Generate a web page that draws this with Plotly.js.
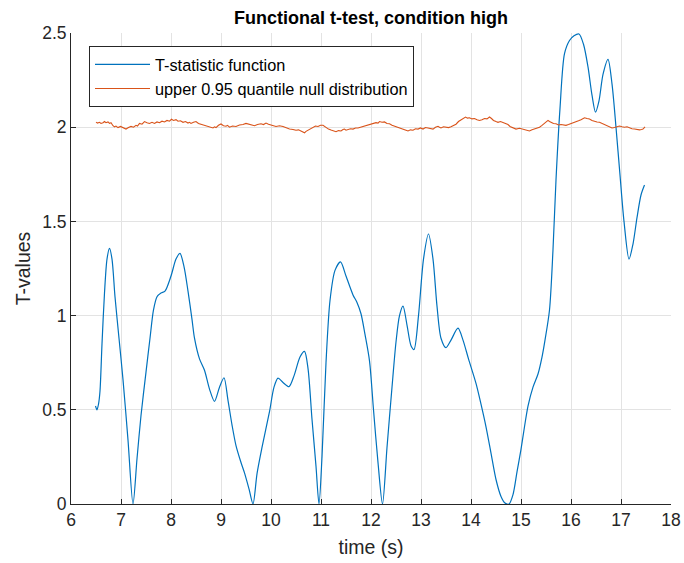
<!DOCTYPE html>
<html>
<head>
<meta charset="utf-8">
<script src="https://cdn.plot.ly/plotly-3.0.1.min.js"></script>
<style>html,body{margin:0;padding:0;background:#fff;}#chart{width:684px;height:563px;}</style>
</head>
<body>
<div id="chart"></div>
<script>
// T-statistic function (blue)
const tTime = [6.49,6.52,6.55,6.58,6.62,6.67,6.72,6.77,6.82,6.88,6.96,7.04,7.14,7.24,7.32,7.40,7.50,7.58,7.65,7.72,7.80,7.88,8.00,8.10,8.18,8.26,8.34,8.42,8.47,8.57,8.67,8.77,8.87,8.97,9.06,9.14,9.22,9.30,9.40,9.47,9.56,9.64,9.72,9.82,9.97,10.06,10.14,10.24,10.36,10.46,10.58,10.67,10.74,10.82,10.90,10.96,11.02,11.10,11.18,11.28,11.39,11.50,11.64,11.72,11.80,11.88,11.97,12.05,12.14,12.23,12.32,12.42,12.50,12.57,12.64,12.72,12.80,12.86,12.95,13.05,13.15,13.24,13.32,13.40,13.50,13.60,13.74,13.84,13.95,14.10,14.20,14.30,14.40,14.50,14.60,14.68,14.76,14.84,14.92,15.00,15.07,15.14,15.24,15.34,15.42,15.48,15.57,15.64,15.70,15.78,15.87,15.97,16.06,16.16,16.25,16.34,16.42,16.49,16.56,16.64,16.74,16.82,16.90,16.98,17.06,17.16,17.24,17.32,17.40,17.47];
const tValues = [0.52,0.50,0.53,0.60,0.85,1.12,1.30,1.357,1.30,1.10,0.88,0.66,0.34,0.0,0.24,0.47,0.70,0.88,1.03,1.10,1.12,1.13,1.21,1.30,1.33,1.26,1.13,0.98,0.88,0.77,0.71,0.61,0.545,0.62,0.67,0.55,0.42,0.31,0.22,0.165,0.08,0.0,0.16,0.30,0.49,0.62,0.668,0.645,0.623,0.68,0.78,0.81,0.72,0.45,0.20,0.0,0.25,0.75,1.08,1.24,1.285,1.21,1.11,1.07,1.01,0.90,0.76,0.50,0.22,0.0,0.30,0.62,0.86,1.00,1.05,0.95,0.84,0.82,1.00,1.30,1.433,1.30,1.05,0.88,0.83,0.87,0.933,0.87,0.77,0.64,0.53,0.41,0.27,0.13,0.04,0.005,0.0,0.05,0.17,0.29,0.41,0.52,0.62,0.69,0.78,0.87,1.03,1.35,1.72,2.10,2.39,2.46,2.485,2.495,2.44,2.32,2.17,2.08,2.14,2.28,2.36,2.23,2.00,1.746,1.50,1.30,1.38,1.52,1.64,1.693];

// upper 0.95 quantile of the null distribution (orange)
const qTime = [6.50,6.53,6.57,6.60,6.64,6.67,6.70,6.74,6.77,6.80,6.84,6.87,6.90,6.94,6.99,7.04,7.07,7.10,7.15,7.20,7.25,7.30,7.33,7.37,7.42,7.47,7.52,7.57,7.62,7.67,7.72,7.77,7.82,7.87,7.92,7.97,8.01,8.05,8.10,8.14,8.19,8.24,8.29,8.34,8.37,8.40,8.45,8.50,8.55,8.60,8.65,8.70,8.77,8.84,8.87,8.90,8.95,9.00,9.05,9.10,9.13,9.17,9.23,9.30,9.37,9.44,9.50,9.57,9.62,9.67,9.73,9.80,9.85,9.90,9.95,10.00,10.05,10.10,10.17,10.24,10.30,10.37,10.44,10.50,10.55,10.60,10.64,10.67,10.70,10.74,10.79,10.84,10.89,10.94,10.99,11.04,11.07,11.10,11.15,11.20,11.25,11.30,11.35,11.40,11.44,11.47,11.50,11.54,11.59,11.64,11.69,11.74,11.79,11.84,11.89,11.94,11.99,12.04,12.10,12.14,12.17,12.22,12.27,12.32,12.37,12.42,12.47,12.52,12.57,12.62,12.67,12.70,12.74,12.79,12.84,12.89,12.94,12.99,13.04,13.09,13.14,13.19,13.24,13.29,13.34,13.37,13.40,13.45,13.50,13.55,13.60,13.65,13.70,13.75,13.80,13.85,13.89,13.93,13.97,14.02,14.07,14.12,14.17,14.22,14.27,14.32,14.37,14.41,14.45,14.50,14.54,14.59,14.64,14.69,14.74,14.78,14.82,14.86,14.90,14.97,15.04,15.10,15.17,15.22,15.27,15.32,15.37,15.42,15.47,15.51,15.54,15.57,15.60,15.65,15.70,15.75,15.80,15.85,15.90,15.95,16.00,16.05,16.10,16.15,16.20,16.24,16.27,16.32,16.37,16.42,16.47,16.52,16.57,16.62,16.67,16.72,16.77,16.82,16.87,16.92,16.97,17.02,17.07,17.12,17.17,17.22,17.27,17.32,17.37,17.41,17.44,17.48];
const qValues = [2.027,2.022,2.026,2.020,2.024,2.030,2.024,2.028,2.020,2.024,2.008,2.002,2.006,1.998,2.004,1.998,1.994,1.990,1.998,2.004,2.000,2.010,2.006,2.020,2.016,2.030,2.024,2.020,2.026,2.020,2.028,2.024,2.032,2.028,2.036,2.032,2.042,2.036,2.040,2.032,2.034,2.026,2.030,2.022,2.026,2.020,2.026,2.030,2.020,2.016,2.012,2.008,2.000,1.996,2.002,1.998,2.010,2.017,2.008,2.005,2.010,2.000,2.006,2.004,2.012,2.014,2.020,2.016,2.012,2.008,2.014,2.018,2.014,2.022,2.016,2.010,2.008,2.004,2.008,2.004,1.996,1.990,1.988,1.984,1.986,1.980,1.976,1.970,1.978,1.984,1.994,2.000,2.006,2.004,2.010,2.010,2.004,1.997,1.990,1.985,1.980,1.976,1.982,1.980,1.988,1.990,1.984,1.986,1.992,1.990,1.996,1.996,2.000,2.000,2.006,2.008,2.014,2.016,2.024,2.022,2.030,2.026,2.028,2.020,2.018,2.010,2.006,2.000,1.998,1.994,1.990,1.984,1.980,1.986,1.984,1.992,1.990,1.996,1.990,1.998,1.996,1.992,1.990,2.000,2.005,2.000,1.996,2.002,2.000,1.998,2.002,2.008,2.016,2.030,2.040,2.048,2.054,2.048,2.050,2.044,2.046,2.040,2.036,2.040,2.046,2.044,2.054,2.046,2.036,2.030,2.026,2.030,2.026,2.020,2.014,2.004,1.998,1.994,1.990,1.994,1.990,1.986,1.980,1.986,1.990,1.996,2.000,2.010,2.022,2.030,2.036,2.030,2.026,2.020,2.018,2.012,2.014,2.010,2.010,2.014,2.018,2.022,2.026,2.034,2.040,2.046,2.050,2.046,2.044,2.036,2.030,2.028,2.026,2.020,2.014,2.006,2.000,1.996,1.998,2.004,2.006,2.002,2.000,2.002,1.996,1.992,1.990,1.986,1.986,1.988,1.990,2.002];

const seriesNames = ['T-statistic function', 'upper 0.95 quantile null distribution'];
const xTicks = [6,7,8,9,10,11,12,13,14,15,16,17,18];
const yTicks = [0,0.5,1,1.5,2,2.5];
const yTickText = ['0','0.5','1','1.5','2','2.5'];

const FONT = 'Liberation Sans, Arial, Helvetica, sans-serif';
const TXT = '#262626';

const traces = [
  {x: tTime, y: tValues, type: 'scatter', mode: 'lines', name: seriesNames[0],
   line: {color: '#0072BD', width: 1.2, shape: 'spline', smoothing: 0.8}},
  {x: qTime, y: qValues, type: 'scatter', mode: 'lines', name: seriesNames[1],
   line: {color: '#D95319', width: 1.1}}
];

const layout = {
  width: 684, height: 563,
  margin: {l: 71, r: 13, t: 33, b: 59},
  paper_bgcolor: '#fff', plot_bgcolor: '#fff',
  font: {family: FONT, color: TXT, size: 17},
  title: {text: '<b>Functional t-test, condition high</b>', font: {family: FONT, size: 18, color: '#000'},
          x: 0.5, xanchor: 'center', y: 0.968, yanchor: 'middle', xref: 'paper'},
  xaxis: {range: [6, 18], tickvals: xTicks, showgrid: true, gridcolor: '#e3e3e3', gridwidth: 1,
          showline: true, linecolor: '#262626', linewidth: 1, ticks: 'inside', ticklen: 5, tickcolor: '#262626',
          zeroline: false, mirror: false, tickfont: {size: 17.5, color: TXT},
          title: {text: 'time (s)', font: {size: 19.5, color: TXT}, standoff: 11}},
  yaxis: {range: [0, 2.5], tickvals: yTicks, ticktext: yTickText, showgrid: true, gridcolor: '#e3e3e3', gridwidth: 1,
          showline: true, linecolor: '#262626', linewidth: 1, ticks: 'inside', ticklen: 5, tickcolor: '#262626',
          zeroline: false, mirror: false, tickfont: {size: 17.5, color: TXT},
          title: {text: 'T-values', font: {size: 19.5, color: TXT}, standoff: 6}},
  showlegend: true,
  legend: {x: 0.03, y: 0.972, xanchor: 'left', yanchor: 'top', bgcolor: '#fff', bordercolor: '#262626', borderwidth: 1,
           font: {size: 16.3, color: '#000'}, itemwidth: 55, tracegroupgap: 0}
};

Plotly.newPlot('chart', traces, layout, {displayModeBar: false, staticPlot: true});
</script>
</body>
</html>
